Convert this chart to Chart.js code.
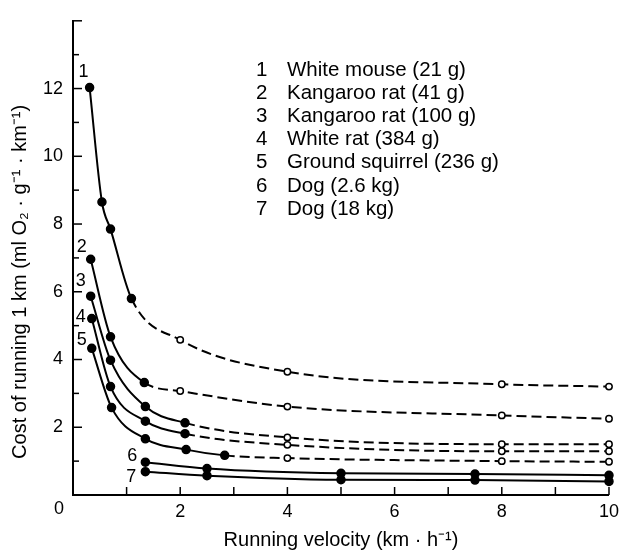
<!DOCTYPE html>
<html><head><meta charset="utf-8">
<script src="https://cdn.jsdelivr.net/npm/chart.js@4.4.1/dist/chart.umd.min.js"></script>
<style>html,body{margin:0;padding:0;background:#fff;}canvas{display:block;}</style>
</head><body>
<canvas id="c" width="625" height="556"></canvas>
<script>
// ---- data ----
const curveNumbers = ['1', '2', '3', '4', '5', '6', '7'];
const speciesNames = ['White mouse (21 g)', 'Kangaroo rat (41 g)', 'Kangaroo rat (100 g)', 'White rat (384 g)', 'Ground squirrel (236 g)', 'Dog (2.6 kg)', 'Dog (18 kg)'];

const mouseX = [0.31, 0.54, 0.70, 1.09, 2.0, 4.0, 8.0, 10.0];
const mouseY = [12.03, 8.65, 7.85, 5.8, 4.58, 3.64, 3.27, 3.2];
const kRat41X = [0.33, 0.70, 1.33, 2.0, 4.0, 8.0, 10.0];
const kRat41Y = [6.96, 4.67, 3.32, 3.07, 2.61, 2.35, 2.25];
const kRat100X = [0.33, 0.70, 1.35, 2.09, 4.0, 8.0, 10.0];
const kRat100Y = [5.87, 3.98, 2.61, 2.13, 1.70, 1.50, 1.50];
const whiteRatX = [0.35, 0.70, 1.35, 2.09, 4.0, 8.0, 10.0];
const whiteRatY = [5.21, 3.2, 2.18, 1.81, 1.48, 1.29, 1.29];
const squirrelX = [0.35, 0.72, 1.35, 2.11, 2.83, 4.0, 8.0, 10.0];
const squirrelY = [4.33, 2.58, 1.66, 1.34, 1.17, 1.09, 1.0, 0.98];
const dogSmallX = [1.35, 2.5, 5.0, 7.5, 10.0];
const dogSmallY = [0.97, 0.78, 0.64, 0.62, 0.58];
const dogLargeX = [1.35, 2.5, 5.0, 7.5, 10.0];
const dogLargeY = [0.69, 0.57, 0.45, 0.44, 0.40];
// number of measured (filled, solid-line) points in each series; the rest are extrapolated (open, dashed)
const measuredCounts = [4, 3, 4, 4, 5, 5, 5];

const xTickLabels = [2, 4, 6, 8, 10];
const yTickLabels = [2, 4, 6, 8, 10, 12];

const seriesX = [mouseX, kRat41X, kRat100X, whiteRatX, squirrelX, dogSmallX, dogLargeX];
const seriesY = [mouseY, kRat41Y, kRat100Y, whiteRatY, squirrelY, dogSmallY, dogLargeY];

// ---- styles ----
const FONT = '"Liberation Sans", Arial, sans-serif';
const INK = '#000';
const labelOffsets = [[-6, -15], [-9, -12], [-10, -15], [-11, -1], [-10, -8], [-13, -6], [-14, 5]];

const datasets = seriesX.map((xs, i) => {
  const n = measuredCounts[i];
  return {
    label: speciesNames[i],
    data: xs.map((x, j) => ({x: x, y: seriesY[i][j]})),
    showLine: true,
    borderColor: INK,
    borderWidth: 2,
    cubicInterpolationMode: 'monotone',
    pointRadius: xs.map((_, j) => j < n ? 4 : 3.2),
    pointBackgroundColor: xs.map((_, j) => j < n ? INK : '#fff'),
    pointBorderColor: INK,
    pointBorderWidth: 1.5,
    clip: false,
    segment: {
      borderDash: ctx => ctx.p1DataIndex >= n ? [10, 5] : undefined
    }
  };
});

const decor = {
  id: 'decor',
  afterDraw(chart) {
    const {ctx, chartArea: a} = chart;
    const xs = chart.scales.x, ys = chart.scales.y;
    ctx.save();
    ctx.strokeStyle = INK;
    ctx.lineWidth = 1.5;
    // inward tick marks
    ys.ticks.forEach(t => {
      if (t.value === 0) return;
      const py = ys.getPixelForValue(t.value);
      const len = t.value % 2 === 0 ? 9 : 6;
      ctx.beginPath(); ctx.moveTo(a.left, py); ctx.lineTo(a.left + len, py); ctx.stroke();
    });
    xs.ticks.forEach(t => {
      if (t.value === 0) return;
      const px = xs.getPixelForValue(t.value);
      const len = 8;
      ctx.beginPath(); ctx.moveTo(px, a.bottom); ctx.lineTo(px, a.bottom - len); ctx.stroke();
    });
    ctx.fillStyle = INK;
    ctx.textAlign = 'center';
    ctx.textBaseline = 'middle';
    // origin label
    ctx.font = '18px ' + FONT;
    ctx.fillText('0', a.left - 14, a.bottom + 14);
    // curve numbers next to first point of each series
    seriesX.forEach((xsArr, i) => {
      const px = xs.getPixelForValue(xsArr[0]) + labelOffsets[i][0];
      const py = ys.getPixelForValue(seriesY[i][0]) + labelOffsets[i][1];
      ctx.fillText(curveNumbers[i], px, py);
    });
    // y-axis title
    ctx.save();
    ctx.translate(20, (a.top + a.bottom) / 2 + 24);
    ctx.rotate(-Math.PI / 2);
    ctx.font = '20px ' + FONT;
    ctx.fillText('Cost of running 1 km (ml O\u2082 \u00b7 g\u207b\u00b9 \u00b7 km\u207b\u00b9)', 0, 0);
    ctx.restore();
    // key
    ctx.font = '20.5px ' + FONT;
    ctx.textAlign = 'left';
    speciesNames.forEach((name, i) => {
      const py = 70 + i * 23.2;
      ctx.fillText(curveNumbers[i], 256, py);
      ctx.fillText(name, 287, py);
    });
    ctx.restore();
  }
};

new Chart(document.getElementById('c'), {
  type: 'scatter',
  data: {datasets: datasets},
  options: {
    responsive: false,
    animation: false,
    devicePixelRatio: 1,
    layout: {padding: {top: 7, right: 11, left: 0, bottom: 0}},
    plugins: {legend: {display: false}, tooltip: {enabled: false}},
    scales: {
      x: {
        type: 'linear', min: 0, max: 10,
        grid: {display: false, drawTicks: false},
        border: {display: true, color: INK, width: 2},
        ticks: {
          stepSize: 1, autoSkip: false, padding: 6, color: INK, maxRotation: 0,
          font: {family: FONT, size: 18},
          callback: v => xTickLabels.includes(v) ? String(v) : ''
        },
        title: {display: true, text: 'Running velocity (km \u00b7 h\u207b\u00b9)', color: INK,
          font: {family: FONT, size: 20}, padding: {top: 0, bottom: 4}},
        afterFit: s => { s.height = 61; }
      },
      y: {
        type: 'linear', min: 0, max: 14,
        grid: {display: false, drawTicks: false},
        border: {display: true, color: INK, width: 2},
        ticks: {
          stepSize: 1, autoSkip: false, padding: 10, color: INK,
          font: {family: FONT, size: 18},
          callback: v => yTickLabels.includes(v) ? String(v) : ''
        },
        afterFit: s => { s.width = 73; }
      }
    }
  },
  plugins: [decor]
});
</script>
</body></html>
